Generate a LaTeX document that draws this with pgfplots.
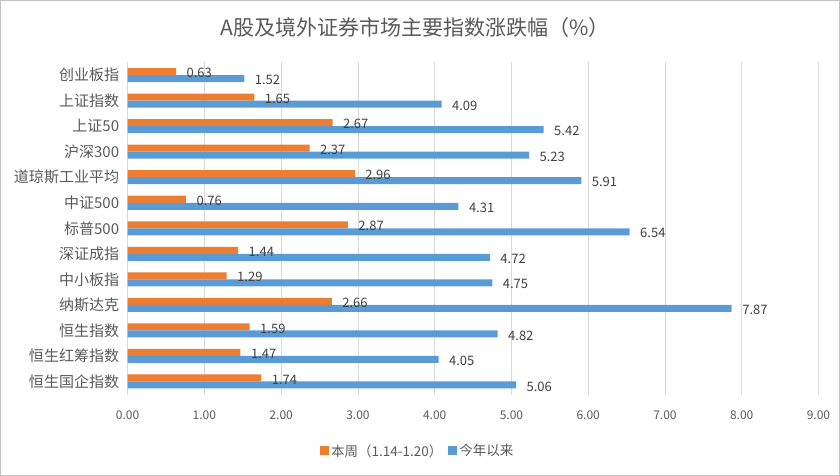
\documentclass[border=0pt]{standalone}
\usepackage{fontspec}
\setmainfont{Noto Sans CJK SC}
\usepackage{pgfplots}
\pgfplotsset{compat=1.18}
\definecolor{weekorange}{HTML}{ED7D31}
\definecolor{ytdblue}{HTML}{5B9BD5}
\definecolor{txtgray}{HTML}{595959}
\definecolor{lbldark}{HTML}{404040}
\definecolor{gridgray}{HTML}{D9D9D9}

\begin{document}
\begin{tikzpicture}
\begin{axis}[
    xbar,
    bar width=7pt,
    scale only axis,
    width=690pt, height=333pt,
    xmin=0, xmax=9,
    ymin=-0.53, ymax=12.53,
    y dir=reverse,
    ytick={0,...,12},
    yticklabels={创业板指, 上证指数, 上证50, 沪深300, 道琼斯工业平均, 中证500,
                 标普500, 深证成指, 中小板指, 纳斯达克, 恒生指数, 恒生红筹指数, 恒生国企指数},
    xtick={0,...,9},
    /pgf/number format/assume math mode=true,
    xticklabel style={/pgf/number format/fixed, /pgf/number format/fixed zerofill,
                      /pgf/number format/precision=2,
                      font=\fontsize{12}{14}\selectfont, text=txtgray, yshift=-12pt},
    yticklabel style={font=\fontsize{15}{17}\selectfont, text=txtgray, xshift=-5pt},
    axis line style={draw=none},
    major tick length=0pt,
    xmajorgrids,
    grid style={gridgray, line width=0.8pt},
    nodes near coords,
    nodes near coords style={/pgf/number format/fixed, /pgf/number format/fixed zerofill,
                             /pgf/number format/precision=2},
    every node near coord/.append style={font=\fontsize{13}{15}\selectfont, text=lbldark,
                                         anchor=west, xshift=7pt, yshift=-1.5pt},
    title={A股及境外证券市场主要指数涨跌幅（\%）},
    title style={at={(0.416,1.085)}, anchor=center, font=\fontsize{21}{25}\selectfont, text=txtgray},
    legend style={at={(0.42,-0.168)}, anchor=center, draw=none, legend columns=2,
                  font=\fontsize{13.5}{16}\selectfont, text=txtgray,
                  /tikz/every even column/.append style={column sep=4pt}},
    legend image code/.code={\fill[#1] (0pt,-4.5pt) rectangle (9pt,4.5pt);},
]
\addplot[fill=weekorange, draw=none, bar shift=3.5pt] coordinates {
    (0.63,0) (1.65,1) (2.67,2) (2.37,3) (2.96,4) (0.76,5) (2.87,6)
    (1.44,7) (1.29,8) (2.66,9) (1.59,10) (1.47,11) (1.74,12)
};
\addplot[fill=ytdblue, draw=none, bar shift=-3.5pt] coordinates {
    (1.52,0) (4.09,1) (5.42,2) (5.23,3) (5.91,4) (4.31,5) (6.54,6)
    (4.72,7) (4.75,8) (7.87,9) (4.82,10) (4.05,11) (5.06,12)
};
\legend{本周（1.14-1.20）, 今年以来}
\end{axis}
\draw[gridgray!90!black, line width=1pt] ([shift={(-127pt,-80pt)}]current axis.south west) rectangle ++(838pt,474pt);
\end{tikzpicture}
\end{document}
